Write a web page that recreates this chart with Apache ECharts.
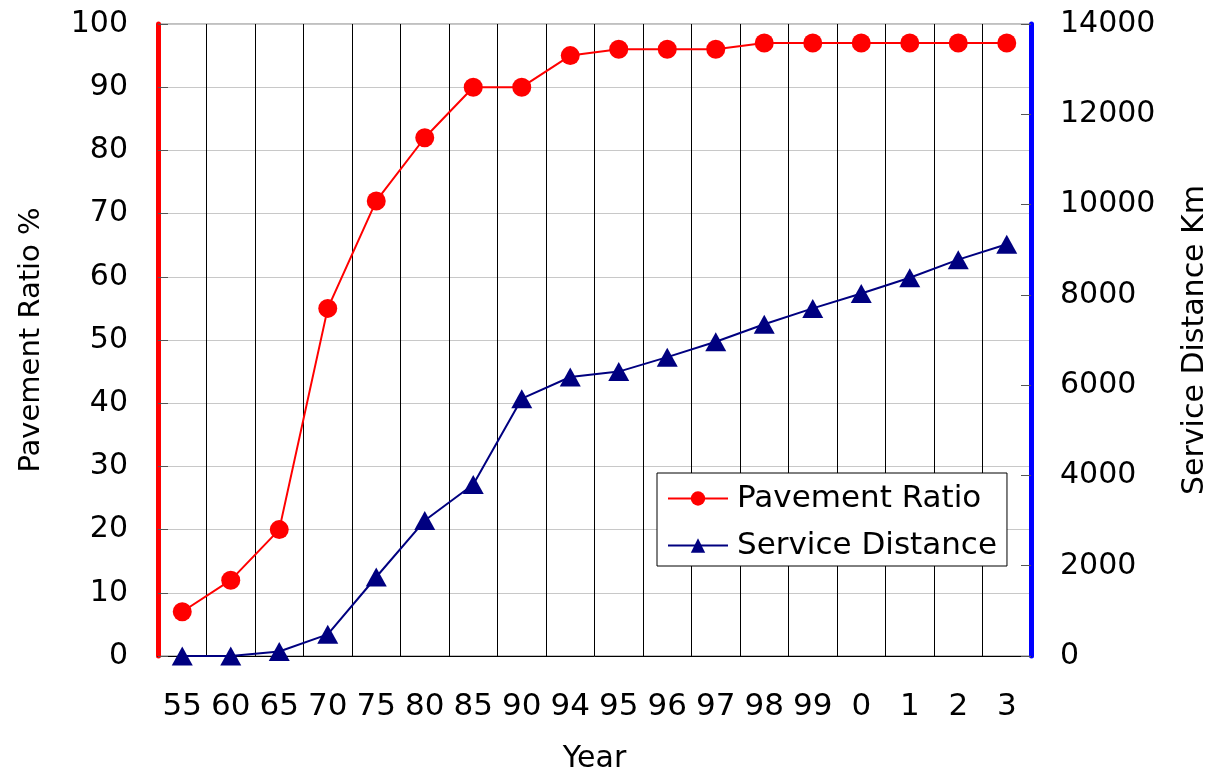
<!DOCTYPE html>
<html>
<head>
<meta charset="utf-8">
<script src="https://cdn.jsdelivr.net/npm/echarts@6/dist/echarts.min.js"></script>
<style>html,body{margin:0;padding:0;background:#fff}#c{width:1212px;height:772px}</style>
</head>
<body>
<div id="c"></div>
<script>
var years = ['55','60','65','70','75','80','85','90','94','95','96','97','98','99','0','1','2','3'];
var pavementRatio = [7, 12, 20, 55, 72, 82, 90, 90, 95, 96, 96, 96, 97, 97, 97, 97, 97, 97];
var serviceDistance = [0, 0, 100, 480, 1750, 3000, 3800, 5700, 6180, 6300, 6620, 6960, 7350, 7700, 8030, 8380, 8780, 9120];

var FONT = 'DejaVu Sans';
var FS = 30;
var chart = echarts.init(document.getElementById('c'), null, {renderer: 'canvas'});
chart.setOption({
  animation: false,
  backgroundColor: '#fff',
  textStyle: {fontFamily: FONT},
  grid: {left: 158, right: 181, top: 24, bottom: 116, outerBoundsMode: 'none', containLabel: false,
         show: true, borderColor: '#808080', borderWidth: 1, backgroundColor: 'transparent'},
  legend: {
    orient: 'vertical',
    left: 657, top: 473,
    padding: [10, 10, 5, 10],
    itemGap: 16,
    itemWidth: 60, itemHeight: 18,
    backgroundColor: '#fff',
    borderColor: '#000', borderWidth: 1, borderRadius: 0,
    textStyle: {fontFamily: FONT, fontSize: 31, color: '#000', lineHeight: 31, padding: [0, 0, 0, 4]},
    data: ['Pavement Ratio', 'Service Distance']
  },
  xAxis: {
    type: 'category',
    data: years,
    boundaryGap: true,
    name: 'Year', nameLocation: 'middle', nameGap: 88,
    nameTextStyle: {fontFamily: FONT, fontSize: FS, color: '#000'},
    axisLine: {lineStyle: {color: '#000', width: 1}},
    axisTick: {show: false},
    axisLabel: {interval: 0, margin: 35, fontFamily: FONT, fontSize: 31, color: '#000'},
    splitLine: {show: true, interval: 0, lineStyle: {color: '#000', width: 1}}
  },
  yAxis: [{
    type: 'value', min: 0, max: 100, interval: 10,
    name: 'Pavement Ratio %', nameLocation: 'middle', nameGap: 112, nameRotate: 90,
    nameTextStyle: {fontFamily: FONT, fontSize: 29, color: '#000'},
    axisLine: {show: true, lineStyle: {color: '#ff0000', width: 5}},
    axisTick: {show: true, inside: true, length: 10, lineStyle: {color: '#555'}},
    axisLabel: {margin: 30, fontFamily: FONT, fontSize: FS, color: '#000'},
    splitLine: {show: true, lineStyle: {color: '#c8c8c8', width: 1}}
  }, {
    type: 'value', min: 0, max: 14000, interval: 2000,
    position: 'right',
    name: 'Service Distance Km', nameLocation: 'middle', nameGap: 149, nameRotate: 90,
    nameTextStyle: {fontFamily: FONT, fontSize: FS, color: '#000'},
    axisLine: {show: true, lineStyle: {color: '#0000ff', width: 5}},
    axisTick: {show: true, inside: true, length: 10, lineStyle: {color: '#555'}},
    axisLabel: {margin: 29, fontFamily: FONT, fontSize: FS, color: '#000', formatter: function (v) { return String(v); }},
    splitLine: {show: false}
  }],
  series: [{
    name: 'Pavement Ratio', type: 'line', yAxisIndex: 0,
    data: pavementRatio,
    symbol: 'circle', symbolSize: 19,
    lineStyle: {color: '#ff0000', width: 2},
    itemStyle: {color: '#ff0000'},
    z: 3
  }, {
    name: 'Service Distance', type: 'line', yAxisIndex: 1,
    data: serviceDistance,
    symbol: 'triangle', symbolSize: [21, 19],
    lineStyle: {color: '#000080', width: 2},
    itemStyle: {color: '#000080'},
    z: 3
  }]
});
</script>
</body>
</html>
